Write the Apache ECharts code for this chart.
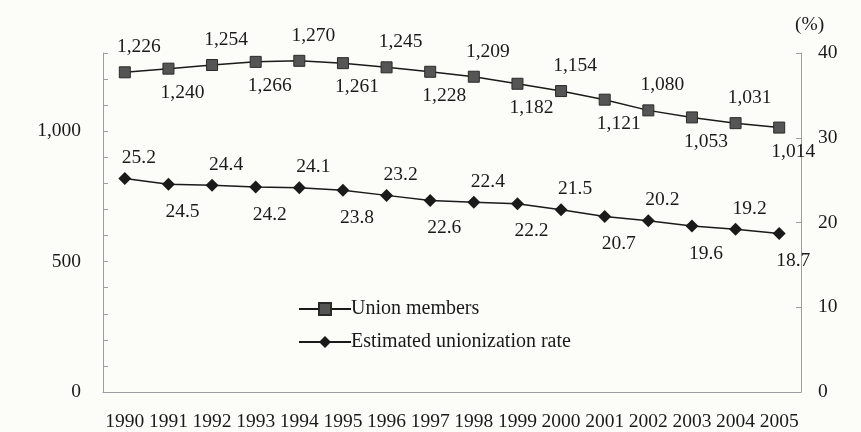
<!DOCTYPE html>
<html><head><meta charset="utf-8">
<script src="https://cdn.jsdelivr.net/npm/echarts@6/dist/echarts.min.js"></script>
<style>html,body{margin:0;padding:0;background:#fcfcf8;}#c{width:861px;height:432px;}</style>
</head><body><div id="c"></div>
<script>
const years = ['1990','1991','1992','1993','1994','1995','1996','1997','1998','1999','2000','2001','2002','2003','2004','2005'];
const unionMembers = [1226,1240,1254,1266,1270,1261,1245,1228,1209,1182,1154,1121,1080,1053,1031,1014];
const unionRate = [25.2,24.5,24.4,24.2,24.1,23.8,23.2,22.6,22.4,22.2,21.5,20.7,20.2,19.6,19.2,18.7];
const leftLabels = [0, 500, 1000];

const font = '"Liberation Serif", "Times New Roman", serif';
const txt = '#1a1a1a';
const axisCol = '#9c9ca4';
const fs = 19.5;

function labeled(vals, fmt, dx, dTop, dBottom) {
  return vals.map((v, i) => {
    const up = i % 2 === 0;
    return {
      value: v,
      label: {
        show: true,
        position: up ? 'top' : 'bottom',
        distance: up ? dTop : dBottom,
        offset: [dx, 0],
        formatter: fmt
      }
    };
  });
}

const chart = echarts.init(document.getElementById('c'), null, {renderer: 'canvas'});
chart.setOption({
  backgroundColor: '#fcfcf8',
  animation: false,
  textStyle: {fontFamily: font, color: txt},
  grid: {left: 103, right: 60, top: 53, bottom: 39},
  legend: {
    orient: 'vertical', left: 293, top: 294, itemWidth: 52, itemHeight: 15, itemGap: 13,
    textStyle: {fontFamily: font, fontSize: 20, color: txt, padding: [0,0,0,-5]},
    data: ['Union members', 'Estimated unionization rate']
  },
  xAxis: {
    type: 'category', data: years, boundaryGap: true,
    axisLine: {lineStyle: {color: axisCol, width: 1}},
    axisTick: {inside: true, length: 5, alignWithLabel: false, lineStyle: {color: axisCol}},
    axisLabel: {fontFamily: font, fontSize: fs, color: txt, margin: 20, interval: 0}
  },
  yAxis: [{
    type: 'value', min: 0, max: 1300, interval: 100,
    axisLine: {show: true, lineStyle: {color: axisCol}},
    axisTick: {show: true, inside: true, length: 5, lineStyle: {color: axisCol}},
    splitLine: {show: false},
    axisLabel: {fontFamily: font, fontSize: fs, color: txt, margin: 22,
      formatter: v => leftLabels.includes(v) ? v.toLocaleString('en-US') : ''}
  }, {
    type: 'value', min: 0, max: 40, interval: 10, position: 'right',
    name: '(%)', nameLocation: 'end', nameGap: 18,
    nameTextStyle: {fontFamily: font, fontSize: fs, color: txt, align: 'left', padding: [0,0,0,-6]},
    axisLine: {show: true, lineStyle: {color: axisCol}},
    axisTick: {show: true, inside: true, length: 5, lineStyle: {color: axisCol}},
    splitLine: {show: false},
    axisLabel: {fontFamily: font, fontSize: fs, color: txt, margin: 17}
  }],
  series: [{
    name: 'Union members', type: 'line', yAxisIndex: 0,
    data: labeled(unionMembers, p => p.value.toLocaleString('en-US'), 14, 9, 8),
    symbol: 'rect', symbolSize: 11,
    itemStyle: {color: '#555555', borderColor: '#2a2a2a', borderWidth: 1},
    lineStyle: {color: '#1a1a1a', width: 1.5},
    label: {fontFamily: font, fontSize: fs, color: txt}
  }, {
    name: 'Estimated unionization rate', type: 'line', yAxisIndex: 1,
    data: labeled(unionRate, p => p.value.toFixed(1), 14, 4, 11),
    symbol: 'diamond', symbolSize: 13,
    itemStyle: {color: '#1a1a1a'},
    lineStyle: {color: '#1a1a1a', width: 1.5},
    label: {fontFamily: font, fontSize: fs, color: txt}
  }]
});
</script></body></html>
